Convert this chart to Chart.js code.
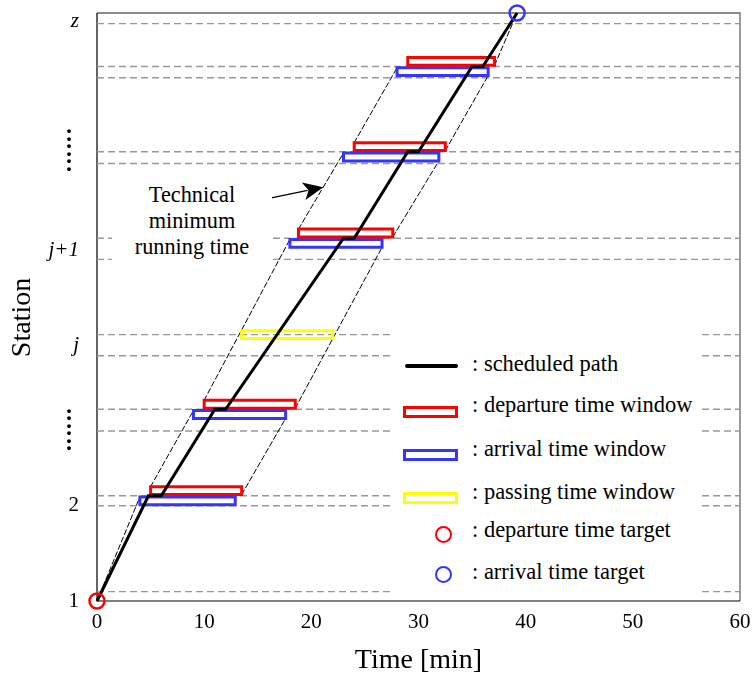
<!DOCTYPE html>
<html>
<head>
<meta charset="utf-8">
<script src="https://cdn.jsdelivr.net/npm/chart.js@4.4.1/dist/chart.umd.min.js"></script>
<style>
  body { margin: 0; background: #fff; }
  #wrap { position: relative; width: 752px; height: 681px; font-family: "Liberation Serif", "Times New Roman", serif; color: #000; }
  #note { position: absolute; left: 112px; top: 170px; width: 160px; height: 95px; background: #fff;
          text-align: center; font-size: 22.3px; line-height: 26px; padding-top: 12px; box-sizing: border-box; }
  #legend { position: absolute; left: 392px; top: 328px; width: 309px; height: 268px; background: #fff; }
  #legend .tx { position: absolute; left: 80px; font-size: 22.5px; line-height: 26px; white-space: nowrap; }
  #legend .mk { position: absolute; box-sizing: border-box; }
  .ln { left: 13px; width: 53px; height: 4px; background: #000; border-radius: 2px; }
  .rc { left: 11px; width: 55px; height: 12px; border: 3px solid; }
  .cc { left: 43px; width: 17px; height: 17px; border: 2.5px solid; border-radius: 50%; }
</style>
</head>
<body>
<div id="wrap">
  <canvas id="chart"></canvas>
  <div id="note">Technical<br>minimum<br>running time</div>
  <div id="legend">
    <div class="mk ln" style="top:36px"></div>
    <div class="tx" style="top:23px">: scheduled path</div>
    <div class="mk rc" style="top:78px; border-color:#ff0000"></div>
    <div class="tx" style="top:64px">: departure time window</div>
    <div class="mk rc" style="top:121px; border-color:#3535ff"></div>
    <div class="tx" style="top:108px">: arrival time window</div>
    <div class="mk rc" style="top:164px; border-color:#ffff00"></div>
    <div class="tx" style="top:151px">: passing time window</div>
    <div class="mk cc" style="top:198px; border-color:#ff0000"></div>
    <div class="tx" style="top:189px">: departure time target</div>
    <div class="mk cc" style="top:238px; border-color:#3535ff"></div>
    <div class="tx" style="top:231px">: arrival time target</div>
  </div>
</div>
<script>
// scheduled path (time in min, station position 0..100)
const pathTime = [0, 4.8, 6, 11, 12, 23, 24, 29, 30, 35, 36, 39.2];
const pathStation = [0, 17.9, 17.9, 32.6, 32.6, 61.7, 61.7, 76.4, 76.4, 90.9, 90.9, 100];

// stop stations: departure / arrival windows
const stopLevel = [17.9, 32.6, 61.7, 76.4, 90.9];
const depStart = [5, 10, 18.8, 24, 29];
const depEnd = [13.5, 18.5, 27.6, 32.5, 37.1];
const arrStart = [4, 9, 18, 23, 28];
const arrEnd = [12.9, 17.6, 26.6, 31.9, 36.5];

// passing station j
const passLevel = [45.3];
const passStart = [13.5];
const passEnd = [22];

// targets [time, station]
const depTarget = [0, 0];
const arrTarget = [39.2, 100];

// dashed station lines
const stationLines = [1.6, 16.2, 17.9, 28.9, 32.6, 41.7, 45.3, 58.1, 61.7, 74.4, 76.4, 89.0, 90.9, 98.2];

// y tick labels
const DOTS = ['· ', '· ', '· ', '· ', '· ', '· '];
const stationTickPos = [0, 16.2, 28.9, 43.5, 59.6, 76.4, 98.6];
const stationTickLabels = ['1', '2', DOTS, 'j', 'j+1', DOTS, 'z'];

const SERIF = '"Liberation Serif", "Times New Roman", serif';
const WIN_H = 1.35;   // window height (station units)
const WIN_GAP = 0.2;
const ARROW_AT = 0.55;

function box(t0, t1, y0, y1) {
  return [{x: t0, y: y0}, {x: t1, y: y0}, {x: t1, y: y1}, {x: t0, y: y1}, {x: t0, y: y0}];
}
function seg(a, b) {
  return [{x: a[0], y: a[1]}, {x: b[0], y: b[1]}];
}
function lineDs(data, color, width, dash) {
  return {
    data, showLine: true, borderColor: color, borderWidth: width, borderDash: dash,
    pointRadius: 0, fill: false, tension: 0, borderJoinStyle: 'miter', borderCapStyle: 'square'
  };
}

const datasets = [];
// targets
datasets.push({ data: [{x: depTarget[0], y: depTarget[1]}], showLine: false, pointRadius: 7.5,
  pointBorderWidth: 2.5, pointBorderColor: '#ff0000', pointBackgroundColor: 'rgba(0,0,0,0)', clip: false });
datasets.push({ data: [{x: arrTarget[0], y: arrTarget[1]}], showLine: false, pointRadius: 7.5,
  pointBorderWidth: 2.5, pointBorderColor: '#3535ff', pointBackgroundColor: 'rgba(0,0,0,0)', clip: false });
// path
datasets.push({ ...lineDs(pathTime.map((t, i) => ({x: t, y: pathStation[i]})), '#000', 3, []), borderCapStyle: 'butt', clip: false });
// windows
stopLevel.forEach((lv, i) => {
  datasets.push(lineDs(box(depStart[i], depEnd[i], lv + WIN_GAP, lv + WIN_GAP + WIN_H), '#ff0000', 3, []));
  datasets.push(lineDs(box(arrStart[i], arrEnd[i], lv - WIN_GAP - WIN_H, lv - WIN_GAP), '#3535ff', 3, []));
});
passLevel.forEach((lv, i) => {
  datasets.push(lineDs(box(passStart[i], passEnd[i], lv - WIN_H / 2, lv + WIN_H / 2), '#ffff00', 3, []));
});
// technical minimum running time lines
datasets.push(lineDs(seg(depTarget, [arrStart[0], stopLevel[0] - WIN_GAP]), '#000', 1, [5, 3]));
for (let i = 0; i < stopLevel.length - 1; i++) {
  datasets.push(lineDs(seg([depStart[i], stopLevel[i] + WIN_GAP + WIN_H], [arrStart[i + 1], stopLevel[i + 1] - WIN_GAP]), '#000', 1, [5, 3]));
  datasets.push(lineDs(seg([depEnd[i], stopLevel[i] + WIN_GAP], [arrEnd[i + 1], stopLevel[i + 1] - WIN_GAP - WIN_H]), '#000', 1, [5, 3]));
}
datasets.push(lineDs(seg([depEnd[stopLevel.length - 1], stopLevel[stopLevel.length - 1] + WIN_GAP], arrTarget), '#000', 1, [5, 3]));
// station lines
stationLines.forEach(v => datasets.push({ ...lineDs(seg([0, v], [60, v]), '#999', 1.4, [7, 4]), borderCapStyle: 'butt' }));

const framePlugin = {
  id: 'frame',
  beforeDatasetsDraw(chart) {
    const {ctx, chartArea: a} = chart;
    ctx.save();
    ctx.lineWidth = 1.3;
    ctx.strokeStyle = '#666';
    ctx.beginPath();
    ctx.moveTo(a.left, a.top); ctx.lineTo(a.right, a.top); ctx.lineTo(a.right, a.bottom);
    ctx.stroke();
    ctx.strokeStyle = '#000';
    ctx.lineWidth = 1.2;
    ctx.beginPath();
    ctx.moveTo(a.left, a.top); ctx.lineTo(a.left, a.bottom); ctx.lineTo(a.right, a.bottom);
    ctx.stroke();
    ctx.restore();
  },
  afterDatasetsDraw(chart) {
    // arrow pointing at the technical line between j+1 and the next stop
    const {ctx} = chart;
    const xs = chart.scales.x, ys = chart.scales.y;
    const t0 = depStart[2], s0 = stopLevel[2] + WIN_GAP + WIN_H;
    const t1 = arrStart[3], s1 = stopLevel[3] - WIN_GAP;
    const tx = xs.getPixelForValue(t0 + ARROW_AT * (t1 - t0));
    const ty = ys.getPixelForValue(s0 + ARROW_AT * (s1 - s0));
    const fx = tx - 53, fy = ty + 11;
    const ang = Math.atan2(ty - fy, tx - fx);
    const L = 20, W = 9;
    ctx.save();
    ctx.translate(tx, ty);
    ctx.rotate(ang);
    ctx.strokeStyle = '#000';
    ctx.fillStyle = '#000';
    ctx.lineWidth = 1.3;
    ctx.beginPath();
    ctx.moveTo(-Math.hypot(tx - fx, ty - fy), 0);
    ctx.lineTo(-L + 4, 0);
    ctx.stroke();
    ctx.beginPath();
    ctx.moveTo(0, 0);
    ctx.lineTo(-L, -W);
    ctx.lineTo(-L + 5, 0);
    ctx.lineTo(-L, W);
    ctx.closePath();
    ctx.fill();
    ctx.restore();
  }
};

new Chart(document.getElementById('chart'), {
  type: 'scatter',
  data: { datasets },
  options: {
    responsive: true,
    maintainAspectRatio: false,
    animation: false,
    events: [],
    layout: { padding: { top: 13, right: 12, left: 0, bottom: 0 } },
    plugins: { legend: { display: false }, tooltip: { enabled: false } },
    scales: {
      x: {
        type: 'linear', min: 0, max: 60,
        grid: { display: false, drawTicks: false },
        border: { display: false },
        ticks: { stepSize: 10, color: '#000', font: { family: SERIF, size: 21 }, padding: 9, maxRotation: 0 },
        title: { display: true, text: 'Time [min]', color: '#000', font: { family: SERIF, size: 28 }, padding: { top: 0, bottom: 4 } },
        afterFit: (s) => { s.height = 80; s.paddingLeft = 0; s.paddingRight = 0; }
      },
      y: {
        type: 'linear', min: 0, max: 100,
        grid: { display: false, drawTicks: false },
        border: { display: false },
        afterBuildTicks: (s) => { s.ticks = stationTickPos.map(v => ({ value: v })); },
        ticks: {
          autoSkip: false, color: '#000', padding: 18,
          callback: (v, i) => stationTickLabels[i],
          font: (c) => {
            const lab = stationTickLabels[c.index];
            if (Array.isArray(lab)) return { family: SERIF, size: 24, weight: 'bold', lineHeight: '7.5px' };
            return { family: SERIF, size: 21, style: /[a-z]/.test(lab) ? 'italic' : 'normal', lineHeight: 1.2 };
          }
        },
        title: { display: true, text: 'Station   ', color: '#000', font: { family: SERIF, size: 28 }, padding: { top: 6, bottom: 0 } },
        afterFit: (s) => { s.width = 97; s.paddingTop = 0; s.paddingBottom = 0; }
      }
    }
  },
  plugins: [framePlugin]
});
</script>
</body>
</html>
